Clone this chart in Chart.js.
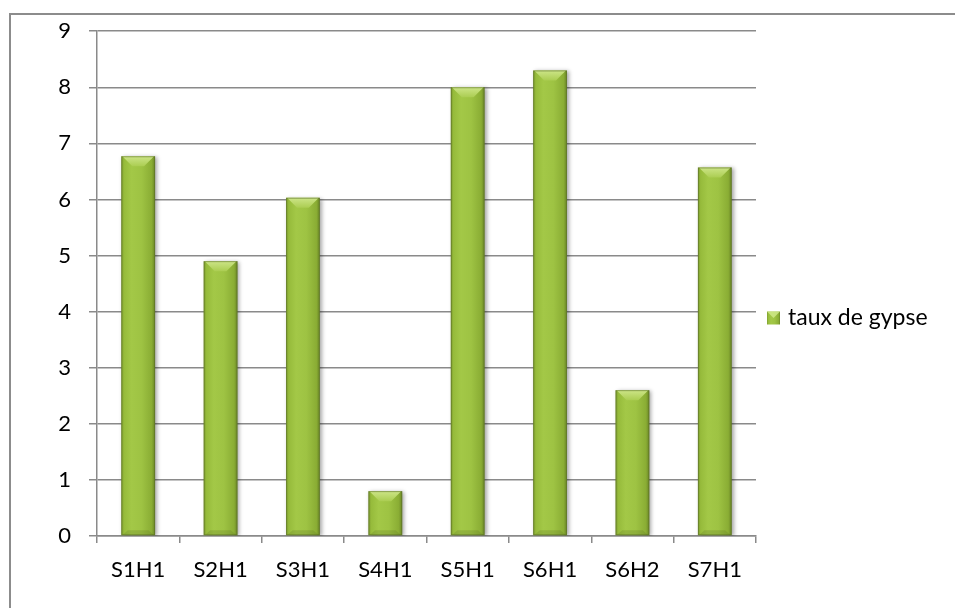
<!DOCTYPE html>
<html>
<head>
<meta charset="utf-8">
<script src="https://cdn.jsdelivr.net/npm/chart.js@4/dist/chart.umd.min.js"></script>
<style>
  html, body { margin: 0; padding: 0; background: #ffffff; }
  #wrap { position: relative; width: 955px; height: 608px; }
</style>
</head>
<body>
<div id="wrap"><canvas id="c" width="955" height="608"></canvas></div>
<script>
// Gypsum content per horizon
const categories = ['S1H1', 'S2H1', 'S3H1', 'S4H1', 'S5H1', 'S6H1', 'S6H2', 'S7H1'];
const gypseValues = [6.77, 4.9, 6.03, 0.8, 8.0, 8.3, 2.6, 6.57];
const seriesLabel = 'taux de gypse';
const yTicks = [0, 1, 2, 3, 4, 5, 6, 7, 8, 9];

const FONT = 'Lato, "Open Sans", sans-serif';
const GRID = '#8a8a8a';

// Horizontal "cylinder" shading across a bar
function barGradient(ctx, left, width) {
  const g = ctx.createLinearGradient(left, 0, left + width, 0);
  g.addColorStop(0.00, '#7a982c');
  g.addColorStop(0.08, '#96bb3b');
  g.addColorStop(0.30, '#a3c847');
  g.addColorStop(0.60, '#9ec343');
  g.addColorStop(0.90, '#8aad34');
  g.addColorStop(1.00, '#6a8526');
  return g;
}

// Frame around the whole chart
const framePlugin = {
  id: 'frame',
  beforeDraw(chart) {
    const ctx = chart.ctx;
    ctx.save();
    ctx.fillStyle = '#ffffff';
    ctx.fillRect(0, 0, chart.width, chart.height);
    ctx.strokeStyle = '#8c8c8c';
    ctx.lineWidth = 2;
    ctx.strokeRect(10, 14, chart.width + 20, chart.height + 20);
    ctx.restore();
  }
};

// Soft shadow under the bars and bevelled caps on top of them
const bevelPlugin = {
  id: 'bevel',
  beforeDatasetsDraw(chart) {
    const ctx = chart.ctx;
    ctx.save();
    ctx.shadowColor = 'rgba(0,0,0,0.35)';
    ctx.shadowBlur = 4;
    ctx.shadowOffsetX = 2;
    ctx.shadowOffsetY = 1;
  },
  afterDatasetsDraw(chart) {
    const ctx = chart.ctx;
    ctx.restore();
    const meta = chart.getDatasetMeta(0);
    ctx.save();
    meta.data.forEach(bar => {
      const w = bar.width;
      const l = bar.x - w / 2;
      const r = bar.x + w / 2;
      const top = bar.y;
      const bottom = bar.base;
      const h = bottom - top;
      const cap = Math.min(10, h / 2);
      const inset = Math.min(11, w / 3);
      // top cap
      const gt = ctx.createLinearGradient(0, top, 0, top + cap);
      gt.addColorStop(0, '#cde588');
      gt.addColorStop(1, '#abcd52');
      ctx.fillStyle = gt;
      ctx.beginPath();
      ctx.moveTo(l + 1, top);
      ctx.lineTo(r - 1, top);
      ctx.lineTo(r - inset, top + cap);
      ctx.lineTo(l + inset, top + cap);
      ctx.closePath();
      ctx.fill();
      // bottom cap
      const bc = Math.min(5, h / 3);
      ctx.fillStyle = 'rgba(80,100,30,0.2)';
      ctx.beginPath();
      ctx.moveTo(l + 1, bottom);
      ctx.lineTo(r - 1, bottom);
      ctx.lineTo(r - inset * 0.6, bottom - bc);
      ctx.lineTo(l + inset * 0.6, bottom - bc);
      ctx.closePath();
      ctx.fill();
      // outline
      ctx.strokeStyle = 'rgba(90,110,40,0.55)';
      ctx.lineWidth = 1;
      ctx.strokeRect(l + 0.5, top + 0.5, w - 1, h - 1);
    });
    ctx.restore();
  }
};

// Legend entry on the right
const legendPlugin = {
  id: 'sideLegend',
  afterDraw(chart) {
    const ctx = chart.ctx;
    const x = 767, y = 318, s = 13;
    ctx.save();
    ctx.fillStyle = barGradient(ctx, x, s);
    ctx.fillRect(x, y - s / 2, s, s);
    ctx.fillStyle = 'rgba(210,235,140,0.8)';
    ctx.beginPath();
    ctx.moveTo(x, y - s / 2);
    ctx.lineTo(x + s, y - s / 2);
    ctx.lineTo(x + s / 2, y);
    ctx.closePath();
    ctx.fill();
    ctx.fillStyle = '#000000';
    ctx.font = '23px ' + FONT;
    ctx.textBaseline = 'middle';
    ctx.textAlign = 'left';
    ctx.fillText(chart.data.datasets[0].label, x + s + 8, y);
    ctx.restore();
  }
};

new Chart(document.getElementById('c'), {
  type: 'bar',
  data: {
    labels: categories,
    datasets: [{
      label: seriesLabel,
      data: gypseValues,
      backgroundColor: (c) => {
        const xs = c.chart.scales.x;
        if (!xs || !xs.width) return '#9ec343';
        const cw = xs.width / categories.length * 0.41;
        const cx = xs.getPixelForValue(c.dataIndex);
        return barGradient(c.chart.ctx, cx - cw / 2, cw);
      },
      borderWidth: 0,
      categoryPercentage: 1,
      barPercentage: 0.41
    }]
  },
  options: {
    responsive: false,
    animation: false,
    events: [],
    layout: { padding: { left: 0, top: 31, right: 199, bottom: 0 } },
    plugins: {
      legend: { display: false },
      tooltip: { enabled: false }
    },
    scales: {
      x: {
        offset: true,
        grid: {
          display: true,
          drawOnChartArea: false,
          drawTicks: true,
          tickLength: 7,
          color: GRID,
          lineWidth: 1.5,
          offset: true
        },
        border: { display: true, color: GRID, width: 1.5 },
        ticks: { color: '#000000', font: { family: FONT, size: 22 }, padding: 14, maxRotation: 0 },
        afterFit: (s) => { s.height = 72; }
      },
      y: {
        min: 0,
        max: 9,
        afterBuildTicks: (s) => { s.ticks = yTicks.map(v => ({ value: v })); },
        grid: {
          color: GRID,
          lineWidth: 1.5,
          drawTicks: true,
          tickLength: 8
        },
        border: { display: true, color: GRID, width: 1.5 },
        ticks: { color: '#000000', font: { family: FONT, size: 22 }, padding: 18 },
        afterFit: (s) => { s.width = 97; }
      }
    }
  },
  plugins: [framePlugin, bevelPlugin, legendPlugin]
});
</script>
</body>
</html>
